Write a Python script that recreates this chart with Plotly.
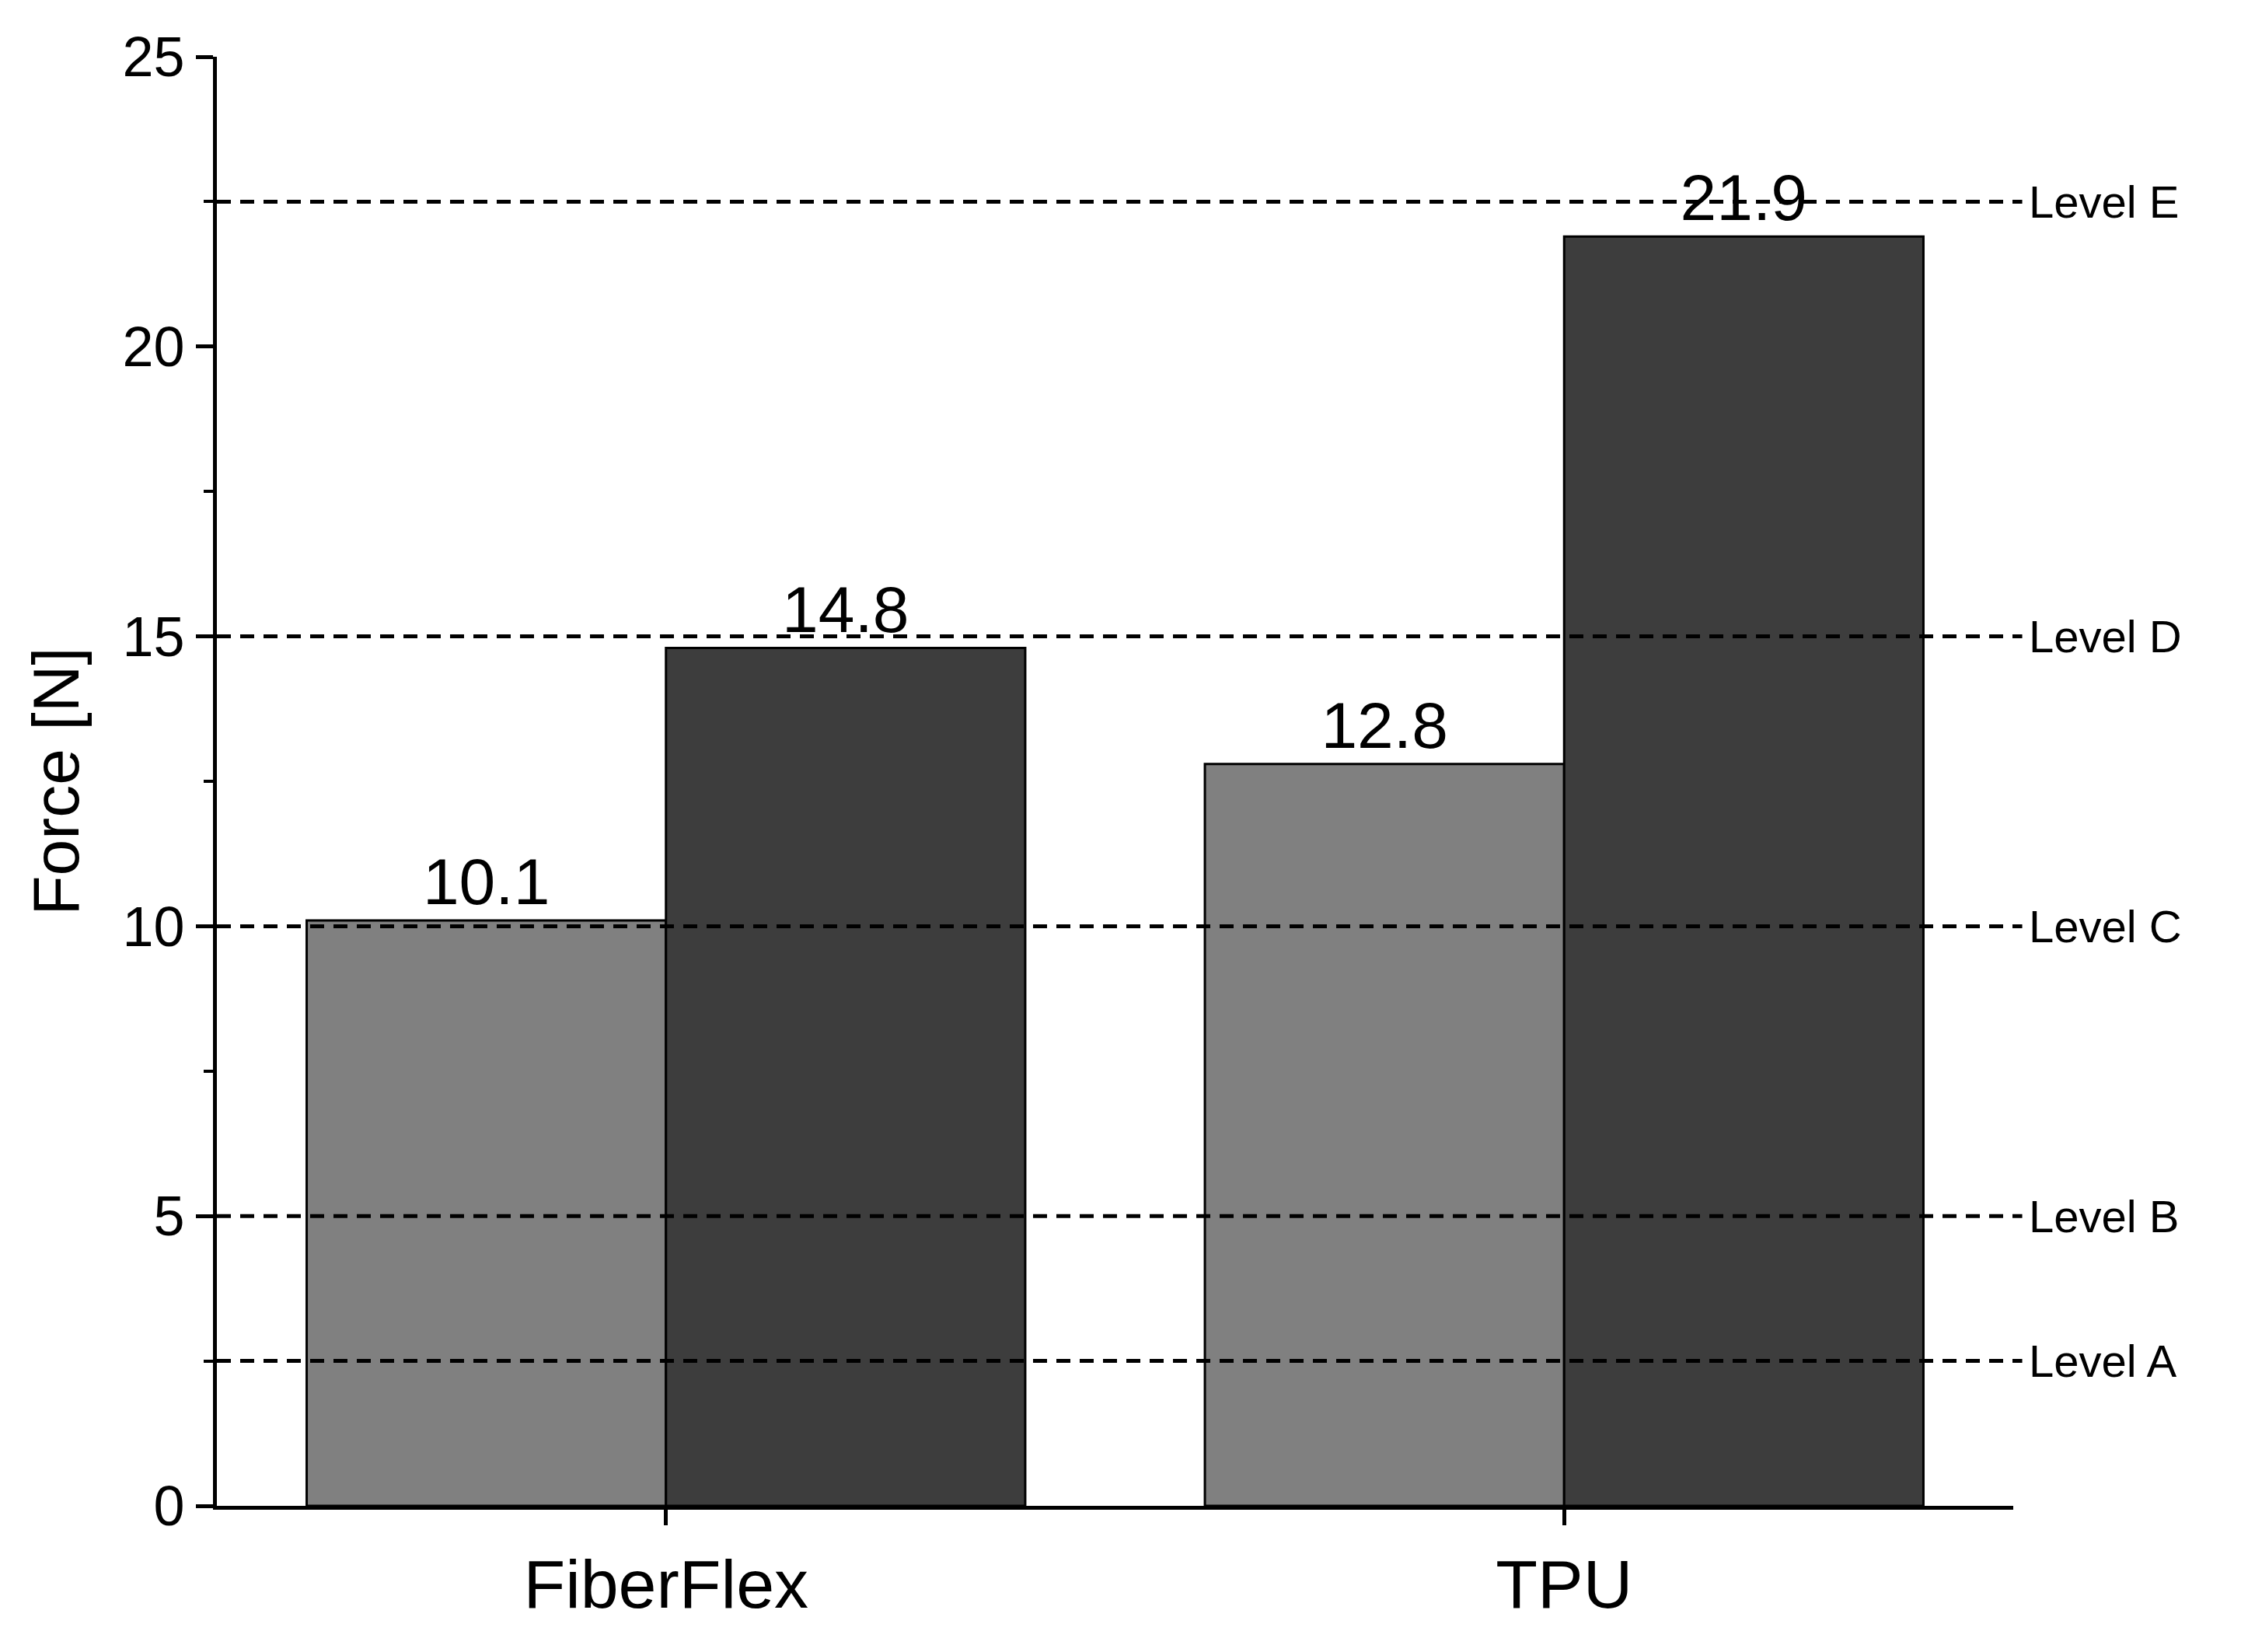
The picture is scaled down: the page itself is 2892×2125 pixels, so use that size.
import plotly.graph_objects as go

categories = ["FiberFlex", "TPU"]
series1 = [10.1, 12.8]
series2 = [14.8, 21.9]
levels = [2.5, 5, 10, 15, 22.5]
level_names = ["Level A", "Level B", "Level C", "Level D", "Level E"]

F = "Liberation Sans, Arial, sans-serif"
fig = go.Figure()
fig.add_bar(x=categories, y=series1, marker=dict(color="#808080", line=dict(color="black", width=3)),
            text=[f"{v:.1f}" for v in series1], textposition="outside",
            textfont=dict(size=84, color="black", family=F), cliponaxis=False)
fig.add_bar(x=categories, y=series2, marker=dict(color="#3d3d3d", line=dict(color="black", width=3)),
            text=[f"{v:.1f}" for v in series2], textposition="outside",
            textfont=dict(size=84, color="black", family=F), cliponaxis=False)

for lv, nm in zip(levels, level_names):
    fig.add_shape(type="line", xref="paper", yref="y", x0=0, x1=1.005, y0=lv, y1=lv,
                  line=dict(color="black", width=5, dash="18px,12px"), layer="above")
    fig.add_annotation(xref="paper", yref="y", x=1.008, y=lv, text=nm, showarrow=False,
                       xanchor="left", font=dict(size=58, color="black", family=F))

fig.update_layout(
    width=2892, height=2125, barmode="group", bargap=0.2, bargroupgap=0,
    plot_bgcolor="white", paper_bgcolor="white", showlegend=False,
    margin=dict(l=271, r=310, t=65, b=196),
    font=dict(family=F, color="black"),
    uniformtext=dict(mode=False),
)
fig.update_xaxes(range=[-0.5, 1.5], showline=True, linecolor="black", linewidth=5,
                 ticks="outside", ticklen=20, tickwidth=5, tickcolor="black",
                 tickfont=dict(size=88, family=F), showgrid=False)
fig.update_yaxes(range=[0, 25], dtick=5, showline=True, linecolor="black", linewidth=5,
                 ticks="outside", ticklen=22, tickwidth=5, tickcolor="black",
                 minor=dict(dtick=2.5, ticks="outside", ticklen=12, tickwidth=4, tickcolor="black"),
                 tickfont=dict(size=72, family=F), showgrid=False, zeroline=False,
                 title=dict(text="Force [N]", font=dict(size=84, family=F), standoff=30))
fig.write_html("out.html")
